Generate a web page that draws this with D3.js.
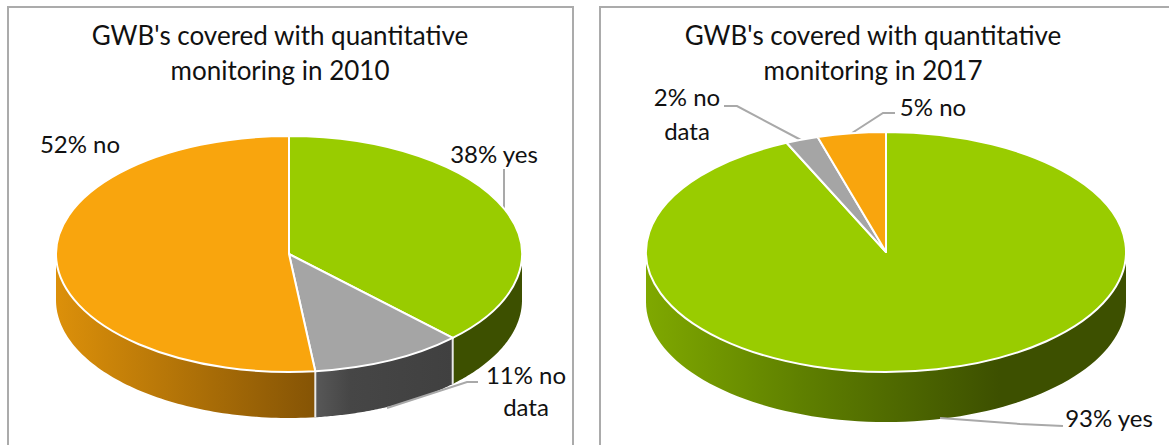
<!DOCTYPE html>
<html>
<head>
<meta charset="utf-8">
<script src="https://cdn.jsdelivr.net/npm/d3@7"></script>
<style>
  html, body { margin: 0; padding: 0; background: #fff; overflow: hidden; }
  text { font-family: Lato, "Open Sans", sans-serif; fill: #111; }
</style>
</head>
<body>
<div id="chart"></div>
<script>
// Data
const categories = ["yes", "no data", "no"];
const values2010 = [37.6, 10.6, 51.8];
const values2017 = [93.2, 2.2, 4.6];
const titles2010 = ["GWB's covered with quantitative", "monitoring in 2010"];
const titles2017 = ["GWB's covered with quantitative", "monitoring in 2017"];
const labels2010 = [["38% yes"], ["11% no", "data"], ["52% no"]];
const labels2017 = [["93% yes"], ["2% no", "data"], ["5% no"]];

const topColors = ["#99cc00", "#a5a5a5", "#f9a50d"];

// Layout
const width = 1169, height = 445;
const titleSize = 26, labelSize = 24;

const panels = [
  {
    values: values2010, titles: titles2010, labels: labels2010,
    frame: { x1: 8, x2: 573, y: 7, open: false },
    titleX: 280, titleY: [45, 80],
    cx: 289, cy: 254, rx: 233, ry: 118, depth: 46,
    labelPos: [[494, 163], [526, 384], [80, 153]],
    lineGap: 32,
    leaders: [
      [[504, 169], [504, 208]],
      [[478, 382], [467, 382], [387, 408]],
      []
    ],
    walls: [
      [[453, "#3d5000"], [522, "#3d5000"]],
      [[315, "#585858"], [350, "#464646"], [453, "#404040"]],
      [[56, "#dc900a"], [315, "#855405"]]
    ]
  },
  {
    values: values2017, titles: titles2017, labels: labels2017,
    frame: { x1: 600, x2: 1169, y: 7, open: true },
    titleX: 873, titleY: [45, 80],
    cx: 886, cy: 252, rx: 240, ry: 120, depth: 50,
    labelPos: [[1109, 427], [687, 106], [933, 116]],
    lineGap: 34,
    leaders: [
      [[1063, 426], [1020, 424], [940, 418]],
      [[724, 106], [737, 106], [801, 140]],
      [[895, 113], [883, 113], [852, 133]]
    ],
    walls: [
      [[647, "#7fa800"], [800, "#5f8000"], [1000, "#3d5000"], [1126, "#3d5000"]],
      [[0, "#5a5a5a"], [1, "#5a5a5a"]],
      [[0, "#855405"], [1, "#855405"]]
    ]
  }
];

const svg = d3.select("#chart").append("svg")
  .attr("width", width)
  .attr("height", height);
const defs = svg.append("defs");

const pie = d3.pie().sort(null).value(d => d);
const arc = d3.arc().innerRadius(0);

panels.forEach((p, pi) => {
  const g = svg.append("g");

  // Cadre du graphique (ouvert en bas)
  const framePts = p.frame.open
    ? [[p.frame.x1, height], [p.frame.x1, p.frame.y], [p.frame.x2, p.frame.y]]
    : [[p.frame.x1, height], [p.frame.x1, p.frame.y], [p.frame.x2, p.frame.y], [p.frame.x2, height]];
  g.append("path")
    .attr("d", d3.line()(framePts))
    .attr("fill", "none")
    .attr("stroke", "#ababab")
    .attr("stroke-width", 2);

  // Titre
  p.titles.forEach((t, i) => {
    g.append("text")
      .attr("x", p.titleX)
      .attr("y", p.titleY[i])
      .attr("text-anchor", "middle")
      .style("font-size", titleSize + "px")
      .text(t);
  });

  const slices = pie(p.values);
  const ex = a => p.cx + p.rx * Math.sin(a);
  const ey = a => p.cy - p.ry * Math.cos(a);

  // Paroi avant : seulement la moitie visible de l'ellipse
  const wall = d3.area()
    .x(a => ex(a))
    .y0(a => ey(a))
    .y1(a => ey(a) + p.depth);

  slices.forEach((s, i) => {
    const a0 = Math.max(s.startAngle, Math.PI / 2);
    const a1 = Math.min(s.endAngle, Math.PI * 1.5);
    if (a1 <= a0) return;

    const stops = p.walls[i];
    const id = `wall-${pi}-${i}`;
    const lo = stops[0][0], hi = stops[stops.length - 1][0];
    const grad = defs.append("linearGradient")
      .attr("id", id)
      .attr("gradientUnits", "userSpaceOnUse")
      .attr("x1", lo).attr("x2", hi)
      .attr("y1", 0).attr("y2", 0);
    stops.forEach(st => {
      grad.append("stop")
        .attr("offset", (st[0] - lo) / (hi - lo))
        .attr("stop-color", st[1]);
    });

    const angles = d3.range(0, 81).map(k => a0 + (a1 - a0) * k / 80);
    g.append("path")
      .attr("d", wall(angles))
      .attr("fill", `url(#${id})`);

    // Separation blanche entre deux parois
    if (s.startAngle > Math.PI / 2 && s.startAngle < Math.PI * 1.5) {
      g.append("line")
        .attr("x1", ex(s.startAngle)).attr("x2", ex(s.startAngle))
        .attr("y1", ey(s.startAngle)).attr("y2", ey(s.startAngle) + p.depth)
        .attr("stroke", "#e8e8e8")
        .attr("stroke-width", 2);
    }
  });

  // Traits de rappel
  p.leaders.forEach(pts => {
    if (!pts.length) return;
    g.append("path")
      .attr("d", d3.line()(pts))
      .attr("fill", "none")
      .attr("stroke", "#a9a9a9")
      .attr("stroke-width", 2);
  });

  // Face superieure : un cercle aplati
  const top = g.append("g")
    .attr("transform", `translate(${p.cx},${p.cy}) scale(1,${p.ry / p.rx})`);
  top.selectAll("path")
    .data(slices)
    .enter().append("path")
    .attr("class", (d, i) => "slice " + categories[i].replace(" ", "-"))
    .attr("d", d => arc.outerRadius(p.rx)(d))
    .attr("fill", (d, i) => topColors[i])
    .attr("stroke", "#fff")
    .attr("stroke-width", 2)
    .attr("stroke-linejoin", "round")
    .attr("vector-effect", "non-scaling-stroke");

  // Etiquettes
  p.labels.forEach((lines, i) => {
    lines.forEach((line, j) => {
      g.append("text")
        .attr("x", p.labelPos[i][0])
        .attr("y", p.labelPos[i][1] + j * p.lineGap)
        .attr("text-anchor", "middle")
        .style("font-size", labelSize + "px")
        .text(line);
    });
  });
});
</script>
</body>
</html>
